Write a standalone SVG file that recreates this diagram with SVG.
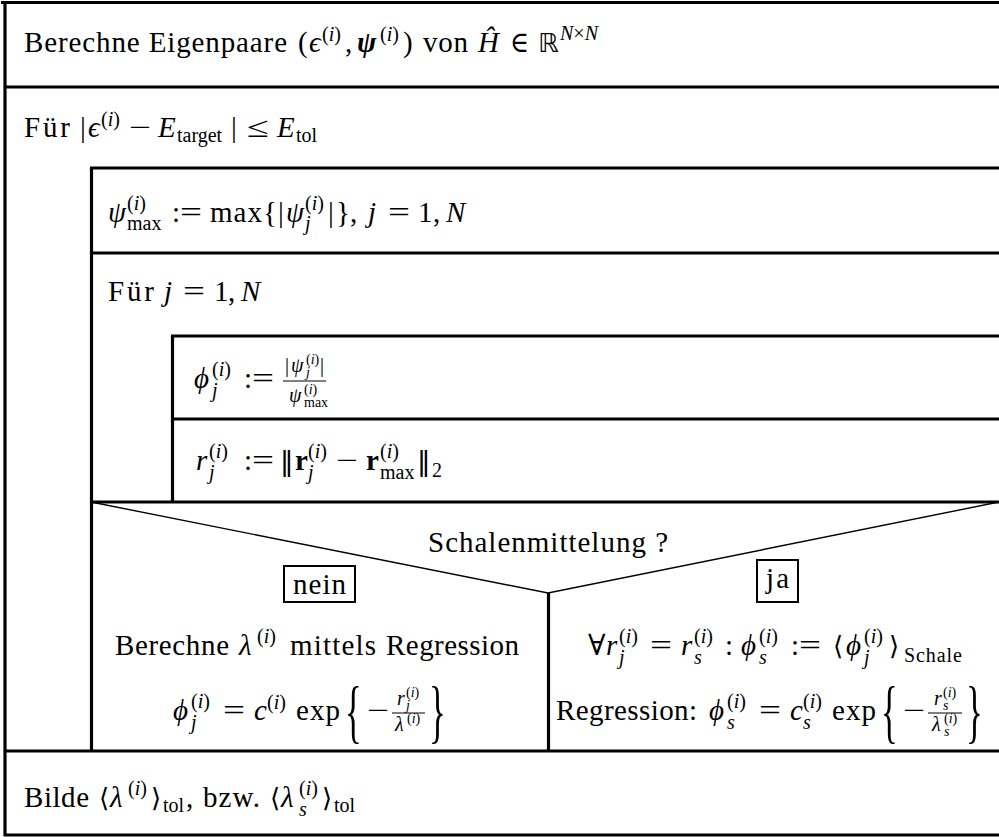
<svg xmlns="http://www.w3.org/2000/svg" xmlns:xlink="http://www.w3.org/1999/xlink" width="999" height="837" viewBox="0 0 999 837">
<style>
text{font-family:"Liberation Serif","DejaVu Serif",serif;font-size:29px;fill:#000}
.i{font-style:italic}
.bi{font-style:italic;font-weight:bold}
.b{font-weight:bold}
.s{font-size:20px}
.ss{font-size:14px}
.sym{font-family:"DejaVu Sans",sans-serif}
.ln{stroke:#000;stroke-width:3.2;fill:none}
.thin{stroke:#000;stroke-width:1.4;fill:none}
.fb{stroke:#000;stroke-width:1.2}
.box{fill:none;stroke:#000;stroke-width:2}
</style>
<defs>
<text id="si" class="s" x="0" y="0">(<tspan class="i">i</tspan>)</text>
<text id="ssi" class="ss" x="0" y="0">(<tspan class="i">i</tspan>)</text>
<text id="eq" x="0" y="0" textLength="22" lengthAdjust="spacingAndGlyphs">=</text>
<text id="minus" x="0" y="0" textLength="22" lengthAdjust="spacingAndGlyphs">−</text>
<g id="assign"><text x="0" y="0">:</text><text x="8" y="0" textLength="22" lengthAdjust="spacingAndGlyphs">=</text></g>
<text id="norm" class="sym" x="0" y="0" style="font-size:27px">‖</text>
</defs>
<rect width="999" height="837" fill="#fff"/>

<g id="frame">
<line class="ln" x1="1" y1="2.5" x2="999" y2="2.5"/>
<line class="ln" x1="5" y1="1" x2="5" y2="836"/>
<line class="ln" x1="4" y1="835" x2="999" y2="835"/>
</g>

<g id="n-eigenpaare">
<line class="ln" x1="4" y1="87" x2="999" y2="87"/>
<text x="24" y="52" textLength="263" lengthAdjust="spacing">Berechne Eigenpaare</text>
<text x="298" y="52">(</text>
<text class="i" x="309" y="52">ϵ</text>
<use xlink:href="#si" x="322" y="41"/>
<text x="345" y="52">,</text>
<text class="bi" x="357" y="52">ψ</text>
<use xlink:href="#si" x="380" y="41"/>
<text x="403" y="52">)</text>
<text x="423" y="52" textLength="45" lengthAdjust="spacing">von</text>
<text class="i" x="478" y="52">Ĥ</text>
<text x="510" y="52" textLength="19" lengthAdjust="spacingAndGlyphs">∈</text>
<text class="sym" x="538" y="52" style="font-size:26px">ℝ</text>
<text class="s" x="560" y="40"><tspan class="i">N</tspan>×<tspan class="i">N</tspan></text>
</g>

<g id="n-loop-energy">
<line class="ln" x1="91.5" y1="168" x2="91.5" y2="751"/>
<line class="ln" x1="90" y1="168" x2="999" y2="168"/>
<text x="24" y="137" textLength="46" lengthAdjust="spacing">Für</text>
<text x="80" y="137">|</text>
<text class="i" x="88" y="137">ϵ</text>
<use xlink:href="#si" x="101" y="126"/>
<use xlink:href="#minus" x="129" y="137"/>
<text class="i" x="158" y="137">E</text>
<text class="s" x="177" y="142">target</text>
<text x="231" y="137">|</text>
<text x="247" y="137" textLength="22" lengthAdjust="spacingAndGlyphs">≤</text>
<text class="i" x="277" y="137">E</text>
<text class="s" x="296" y="142">tol</text>
</g>

<g id="n-psimax">
<line class="ln" x1="90" y1="253" x2="999" y2="253"/>
<text class="i" x="108" y="222">ψ</text>
<use xlink:href="#si" x="127" y="210"/>
<text class="s" x="127" y="230">max</text>
<use xlink:href="#assign" x="172" y="222"/>
<text x="210" y="222" textLength="52" lengthAdjust="spacing">max</text>
<text x="263" y="222">{</text>
<text x="278" y="222">|</text>
<text class="i" x="286" y="222">ψ</text>
<use xlink:href="#si" x="305" y="210"/>
<text class="s i" x="305" y="230">j</text>
<text x="328" y="222">|</text>
<text x="336" y="222">}</text>
<text x="350" y="222">,</text>
<text class="i" x="368" y="222">j</text>
<use xlink:href="#eq" x="388" y="222"/>
<text x="418" y="222">1</text>
<text x="433" y="222">,</text>
<text class="i" x="446" y="222">N</text>
</g>

<g id="n-loop-j">
<line class="ln" x1="172.5" y1="336" x2="172.5" y2="502"/>
<line class="ln" x1="171" y1="336" x2="999" y2="336"/>
<text x="108" y="301" textLength="46" lengthAdjust="spacing">Für</text>
<text class="i" x="164" y="301">j</text>
<use xlink:href="#eq" x="183" y="301"/>
<text x="214" y="301">1</text>
<text x="228" y="301">,</text>
<text class="i" x="241" y="301">N</text>
</g>

<g id="n-phi">
<line class="ln" x1="171" y1="419" x2="999" y2="419"/>
<text class="i" x="194" y="388">ϕ</text>
<use xlink:href="#si" x="212" y="376"/>
<text class="s i" x="212" y="397">j</text>
<use xlink:href="#assign" x="244" y="388"/>
<line class="fb" x1="283" y1="381" x2="326" y2="381"/>
<text class="s" x="285" y="372">|</text>
<text class="s i" x="291" y="372">ψ</text>
<use xlink:href="#ssi" x="306" y="364"/>
<text class="ss i" x="306" y="377">j</text>
<text class="s" x="320" y="372">|</text>
<text class="s i" x="289" y="402">ψ</text>
<use xlink:href="#ssi" x="304" y="394"/>
<text class="ss" x="304" y="407">max</text>
</g>

<g id="n-r">
<line class="ln" x1="90" y1="502" x2="999" y2="502"/>
<text class="i" x="196" y="470">r</text>
<use xlink:href="#si" x="209" y="458"/>
<text class="s i" x="209" y="479">j</text>
<use xlink:href="#assign" x="244" y="470"/>
<use xlink:href="#norm" x="280" y="470"/>
<text class="b" x="295" y="470">r</text>
<use xlink:href="#si" x="308" y="458"/>
<text class="s i" x="308" y="479">j</text>
<use xlink:href="#minus" x="336" y="470"/>
<text class="b" x="366" y="470">r</text>
<use xlink:href="#si" x="380" y="458"/>
<text class="s" x="380" y="479">max</text>
<use xlink:href="#norm" x="417" y="470"/>
<text class="s" x="432" y="477">2</text>
</g>

<g id="n-decision">
<polyline class="thin" points="91,502 548,593 999,502"/>
<line class="ln" x1="548.5" y1="593" x2="548.5" y2="751"/>
<line class="ln" x1="4" y1="751" x2="999" y2="751"/>
<text x="428" y="552" textLength="240" lengthAdjust="spacing">Schalenmittelung ?</text>
<rect class="box" x="284" y="566" width="71" height="36"/>
<text x="293" y="594" textLength="53" lengthAdjust="spacing">nein</text>
<rect class="box" x="757" y="560" width="41" height="42"/>
<text x="766" y="588" textLength="23" lengthAdjust="spacing">ja</text>
</g>

<g id="n-branch-nein">
<text x="115" y="655" textLength="114" lengthAdjust="spacing">Berechne</text>
<text class="i" x="239" y="655">λ</text>
<use xlink:href="#si" x="257" y="643"/>
<text x="290" y="655" textLength="86" lengthAdjust="spacing">mittels</text>
<text x="386" y="655" textLength="133" lengthAdjust="spacing">Regression</text>
<text class="i" x="173" y="720">ϕ</text>
<use xlink:href="#si" x="191" y="708"/>
<text class="s i" x="191" y="729">j</text>
<use xlink:href="#eq" x="223" y="720"/>
<text class="i" x="254" y="720">c</text>
<use xlink:href="#si" x="267" y="709"/>
<text x="296" y="720" textLength="44" lengthAdjust="spacing">exp</text>
<text transform="translate(345,735) scale(1.2,2.4)">{</text>
<use xlink:href="#minus" x="367" y="720"/>
<line class="fb" x1="392" y1="713" x2="425" y2="713"/>
<text class="s i" x="397" y="705">r</text>
<use xlink:href="#ssi" x="406" y="697"/>
<text class="ss i" x="406" y="710">j</text>
<text class="s i" x="395" y="731">λ</text>
<use xlink:href="#ssi" x="407" y="723"/>
<text transform="translate(429,735) scale(1.2,2.4)">}</text>
</g>

<g id="n-branch-ja">
<text x="588" y="655">∀</text>
<text class="i" x="606" y="655">r</text>
<use xlink:href="#si" x="619" y="643"/>
<text class="s i" x="619" y="664">j</text>
<use xlink:href="#eq" x="650" y="655"/>
<text class="i" x="681" y="655">r</text>
<use xlink:href="#si" x="694" y="643"/>
<text class="s i" x="694" y="664">s</text>
<text x="725" y="655">:</text>
<text class="i" x="741" y="655">ϕ</text>
<use xlink:href="#si" x="759" y="643"/>
<text class="s i" x="759" y="664">s</text>
<use xlink:href="#assign" x="791" y="655"/>
<text class="sym" x="833" y="655" style="font-size:26px">⟨</text>
<text class="i" x="846" y="655">ϕ</text>
<use xlink:href="#si" x="864" y="643"/>
<text class="s i" x="864" y="664">j</text>
<text class="sym" x="889" y="655" style="font-size:26px">⟩</text>
<text class="s" x="904" y="662" textLength="58" lengthAdjust="spacing">Schale</text>
<text x="556" y="720" textLength="141" lengthAdjust="spacing">Regression:</text>
<text class="i" x="709" y="720">ϕ</text>
<use xlink:href="#si" x="727" y="708"/>
<text class="s i" x="727" y="729">s</text>
<use xlink:href="#eq" x="759" y="720"/>
<text class="i" x="790" y="720">c</text>
<use xlink:href="#si" x="803" y="708"/>
<text class="s i" x="803" y="729">s</text>
<text x="832" y="720" textLength="44" lengthAdjust="spacing">exp</text>
<text transform="translate(881,735) scale(1.2,2.4)">{</text>
<use xlink:href="#minus" x="903" y="720"/>
<line class="fb" x1="928" y1="713" x2="962" y2="713"/>
<text class="s i" x="934" y="705">r</text>
<use xlink:href="#ssi" x="943" y="697"/>
<text class="ss i" x="943" y="710">s</text>
<text class="s i" x="932" y="731">λ</text>
<use xlink:href="#ssi" x="944" y="723"/>
<text class="ss i" x="944" y="736">s</text>
<text transform="translate(966,735) scale(1.2,2.4)">}</text>
</g>

<g id="n-bilde">
<text x="24" y="807" textLength="65" lengthAdjust="spacing">Bilde</text>
<text class="sym" x="99" y="807" style="font-size:26px">⟨</text>
<text class="i" x="110" y="807">λ</text>
<use xlink:href="#si" x="128" y="795"/>
<text class="sym" x="151" y="807" style="font-size:26px">⟩</text>
<text class="s" x="163" y="812">tol</text>
<text x="186" y="807">,</text>
<text x="203" y="807" textLength="57" lengthAdjust="spacing">bzw.</text>
<text class="sym" x="270" y="807" style="font-size:26px">⟨</text>
<text class="i" x="281" y="807">λ</text>
<use xlink:href="#si" x="299" y="795"/>
<text class="s i" x="299" y="816">s</text>
<text class="sym" x="322" y="807" style="font-size:26px">⟩</text>
<text class="s" x="334" y="812">tol</text>
</g>

<g id="connectors"></g>
</svg>
